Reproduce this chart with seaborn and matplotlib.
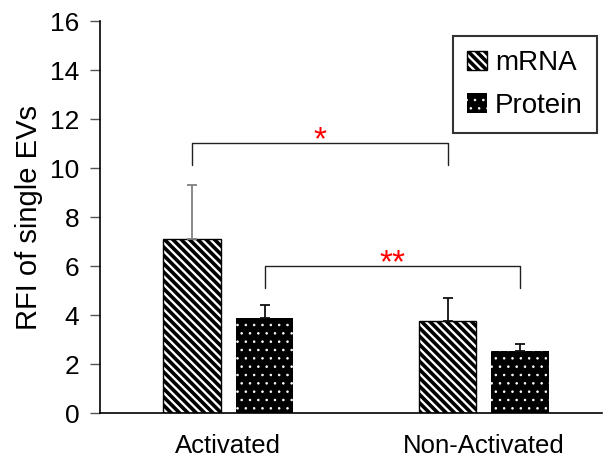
import matplotlib
matplotlib.use("Agg")
import matplotlib.pyplot as plt
import seaborn as sns
import pandas as pd
from matplotlib.patches import Patch

categories = ["Activated", "Non-Activated"]
series = ["mRNA", "Protein"]
mrna_values = [7.1, 3.75]
protein_values = [3.86, 2.54]
mrna_err = [2.2, 0.93]
protein_err = [0.56, 0.29]
y_ticks = [0, 2, 4, 6, 8, 10, 12, 14, 16]

sns.set_theme(style="white")
plt.rcParams["font.family"] = ["Liberation Sans", "DejaVu Sans"]
plt.rcParams["hatch.linewidth"] = 2.6


def set_hlw(p, lw):
    if hasattr(p, "set_hatch_linewidth"):
        p.set_hatch_linewidth(lw)
    else:
        p._hatch_linewidth = lw


df = pd.DataFrame({
    "group": categories * 2,
    "kind": [series[0]] * 2 + [series[1]] * 2,
    "value": mrna_values + protein_values,
})

fig = plt.figure(figsize=(6.05, 4.62), dpi=100)
ax = fig.add_axes([0.1653, 0.106, 0.83, 0.8485])

sns.barplot(data=df, x="group", y="value", hue="kind", order=categories,
            hue_order=series, width=0.568, gap=0.204, errorbar=None,
            ax=ax, legend=False)

bar_containers = list(ax.containers)
errs = [mrna_err, protein_err]
centers = []
for ci, cont in enumerate(bar_containers):
    cx = []
    for bi, bar in enumerate(cont):
        if ci == 0:
            bar.set_facecolor("white")
            bar.set_edgecolor("black")
            bar.set_hatch("\\\\\\\\")
            bar.set_linewidth(1.0)
        else:
            bar.set_facecolor("black")
            bar.set_edgecolor("white")
            bar.set_hatch("..")
            bar.set_linewidth(0)
            set_hlw(bar, 0.6)
        x = bar.get_x() + bar.get_width() / 2
        h = bar.get_height()
        cx.append(x)
        col = "#808080" if (ci == 0 and bi == 0) else "#111111"
        ax.errorbar(x, h, yerr=[[0], [errs[ci][bi]]], fmt="none",
                    ecolor=col, elinewidth=1.3, capsize=3.3, capthick=1.3,
                    zorder=1)
    centers.append(cx)


def bracket(x1, x2, ytop, ybot, label):
    ax.plot([x1, x1, x2, x2], [ybot, ytop, ytop, ybot], color="#222222", lw=1.0)
    ax.text((x1 + x2) / 2, ytop - 0.55, label, color="red", ha="center",
            va="bottom", fontsize=24)


bracket(centers[0][0], centers[0][1], 11.02, 10.12, "*")
bracket(centers[1][0], centers[1][1], 6.0, 5.1, "**")

ax.set_ylim(0, 16)
ax.set_xlim(-0.502, 1.463)
ax.set_yticks(y_ticks)
ax.set_yticklabels([str(t) for t in y_ticks], fontsize=19)
ax.tick_params(axis="x", length=0, labelsize=18.5, pad=15, labelcolor="black")
ax.tick_params(axis="y", length=7, width=1, direction="out", color="#555555",
               left=True, pad=8, labelcolor="black")
ax.set_xlabel("")
ax.set_ylabel("RFI of single EVs", fontsize=21, labelpad=5, color="black")
for s in ["top", "right"]:
    ax.spines[s].set_visible(False)
for s in ["left", "bottom"]:
    ax.spines[s].set_color("black")
    ax.spines[s].set_linewidth(1.2)

h1 = Patch(facecolor="white", edgecolor="black", hatch="\\\\\\\\", lw=1.0, label="mRNA")
h2 = Patch(facecolor="black", edgecolor="white", hatch="..", lw=0, label="Protein")
set_hlw(h2, 0.6)
leg = ax.legend(handles=[h1, h2], loc="upper right", bbox_to_anchor=(1.0, 0.975),
                fontsize=20, frameon=True, fancybox=False, edgecolor="black",
                handlelength=0.7, handleheight=0.7, handletextpad=0.3,
                borderpad=0.5, labelspacing=0.6, borderaxespad=0.2)
leg.get_frame().set_linewidth(1.5)
for t in leg.get_texts():
    t.set_color("black")
lh = getattr(leg, "legend_handles", None) or getattr(leg, "legendHandles", [])
if len(lh) > 1:
    set_hlw(lh[1], 0.6)

fig.savefig("out.png", dpi=100)
